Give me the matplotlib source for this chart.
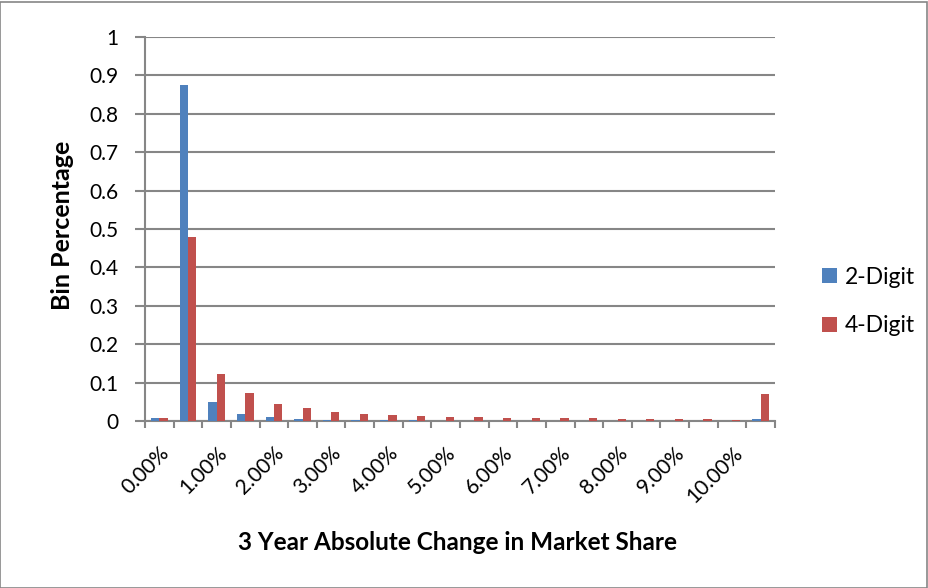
import matplotlib
matplotlib.use("Agg")
import matplotlib.pyplot as plt
import numpy as np
from matplotlib.patches import Rectangle

plt.rcParams['font.family'] = ['Lato', 'DejaVu Sans']

categories = ["0.00%", "0.50%", "1.00%", "1.50%", "2.00%", "2.50%", "3.00%", "3.50%",
              "4.00%", "4.50%", "5.00%", "5.50%", "6.00%", "6.50%", "7.00%", "7.50%",
              "8.00%", "8.50%", "9.00%", "9.50%", "10.00%", "More"]
two_digit = [0.009, 0.875, 0.049, 0.017, 0.011, 0.006, 0.003, 0.003, 0.002, 0.002, 0.001,
             0.001, 0.001, 0.001, 0.001, 0.001, 0.001, 0.001, 0.001, 0.001, 0.001, 0.004]
four_digit = [0.009, 0.478, 0.122, 0.073, 0.045, 0.033, 0.024, 0.018, 0.016, 0.014, 0.010,
              0.010, 0.008, 0.008, 0.008, 0.007, 0.004, 0.004, 0.005, 0.004, 0.003, 0.071]
series_names = ["2-Digit", "4-Digit"]
shown_labels = ["0.00%", "1.00%", "2.00%", "3.00%", "4.00%", "5.00%", "6.00%",
                "7.00%", "8.00%", "9.00%", "10.00%"]
y_ticks = [0, 0.1, 0.2, 0.3, 0.4, 0.5, 0.6, 0.7, 0.8, 0.9, 1]
y_ticklabels = ["0", "0.1", "0.2", "0.3", "0.4", "0.5", "0.6", "0.7", "0.8", "0.9", "1"]

W, H = 929, 588
fig = plt.figure(figsize=(W / 100, H / 100), dpi=100)
ax = fig.add_axes([145 / W, 1 - 421 / H, (775 - 145) / W, (421 - 37) / H])

x = np.arange(len(categories))
bw = 0.29
colors = ['#4F81BD', '#C0504D']
ax.bar(x - bw / 2, two_digit, bw, color=colors[0], label=series_names[0], zorder=3)
ax.bar(x + bw / 2, four_digit, bw, color=colors[1], label=series_names[1], zorder=3)

ax.set_xlim(-0.5, len(categories) - 0.5)
ax.set_ylim(0, 1)
ax.set_yticks(y_ticks)
ax.set_yticklabels(y_ticklabels, fontsize=15)
ax.grid(axis='y', color='#868686', linewidth=1.5, zorder=0)

# tick marks at category boundaries
ax.set_xticks(np.arange(len(categories) + 1) - 0.5, minor=False)
ax.set_xticklabels([])
ax.tick_params(axis='x', which='major', direction='out', length=5.2, color='#868686', width=1.5)
ax.tick_params(axis='y', direction='out', length=7, color='#868686', width=1.5, pad=12)

# labels at category centers (every other)
ax.set_xticks([categories.index(l) for l in shown_labels], minor=True)
ax.set_xticklabels(shown_labels, minor=True, rotation=45, ha='right', va='top',
                   rotation_mode='anchor', fontsize=15)
ax.tick_params(axis='x', which='minor', length=0, pad=16)

for s in ['top', 'right']:
    ax.spines[s].set_visible(False)
for s in ['left', 'bottom']:
    ax.spines[s].set_color('#868686')
    ax.spines[s].set_linewidth(1.5)

fig.text(63 / W, 1 - 225 / H, "Bin Percentage", fontsize=18, fontweight='bold',
         rotation=90, ha='center', va='center')
fig.text(458 / W, 1 - 543 / H, "3 Year Absolute Change in Market Share",
         fontsize=17.5, fontweight='bold', ha='center', va='center')

# legend
for name, col, yc in zip(series_names, colors, [275, 324]):
    fig.patches.append(Rectangle((822 / W, 1 - (yc + 7.5) / H), 15 / W, 15 / H,
                                 transform=fig.transFigure, facecolor=col, edgecolor='none'))
    fig.text(845 / W, 1 - yc / H, name, fontsize=16.5, ha='left', va='center_baseline')

fig.patches.append(Rectangle((0.5 / W, 0.5 / H), 1 - 2 / W, 1 - 2 / H, transform=fig.transFigure,
                             fill=False, edgecolor='#868686', linewidth=1.2))

fig.savefig("out.png", dpi=100)
